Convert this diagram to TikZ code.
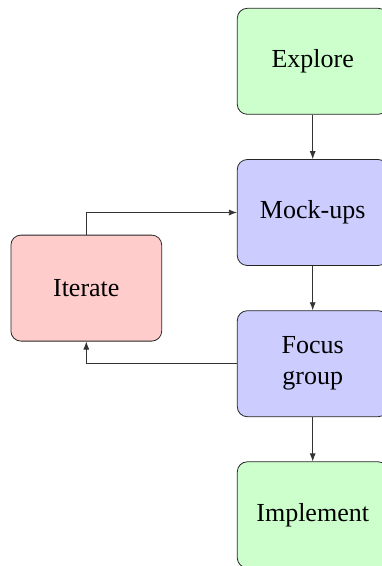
\documentclass[tikz,border=0pt]{standalone}
\usepackage{fontspec}
\setmainfont{Liberation Serif}
\usetikzlibrary{arrows.meta}
\begin{document}
\begin{tikzpicture}[x=1pt,y=-1pt,
  stage/.style={draw=black!85, line width=0.8pt, rounded corners=10pt,
    minimum width=150.8pt, minimum height=106pt, align=center,
    font=\fontsize{26}{31}\selectfont},
  good/.style={stage, fill=green!20},
  test/.style={stage, fill=blue!20},
  redo/.style={stage, fill=red!20},
  link/.style={draw=black!80, line width=0.8pt, -{Latex[length=8pt,width=6pt]}}]
  \useasboundingbox (0,0) rectangle (382,566);
  \node[good] (explore) at (312.7,61.3) {Explore};
  \node[test] (mock) at (312.7,212.5) {Mock-ups};
  \node[test] (focus) at (312.7,363.7) {Focus\\group};
  \node[good] (impl) at (312.7,514.8) {Implement};
  \node[redo] (iter) at (86.3,288.1) {Iterate};
  \draw[link] (explore) -- (mock);
  \draw[link] (mock) -- (focus);
  \draw[link] (focus) -- (impl);
  \draw[link] (iter.north) |- (mock.west);
  \draw[link] (focus.west) -| (iter.south);
\end{tikzpicture}
\end{document}
